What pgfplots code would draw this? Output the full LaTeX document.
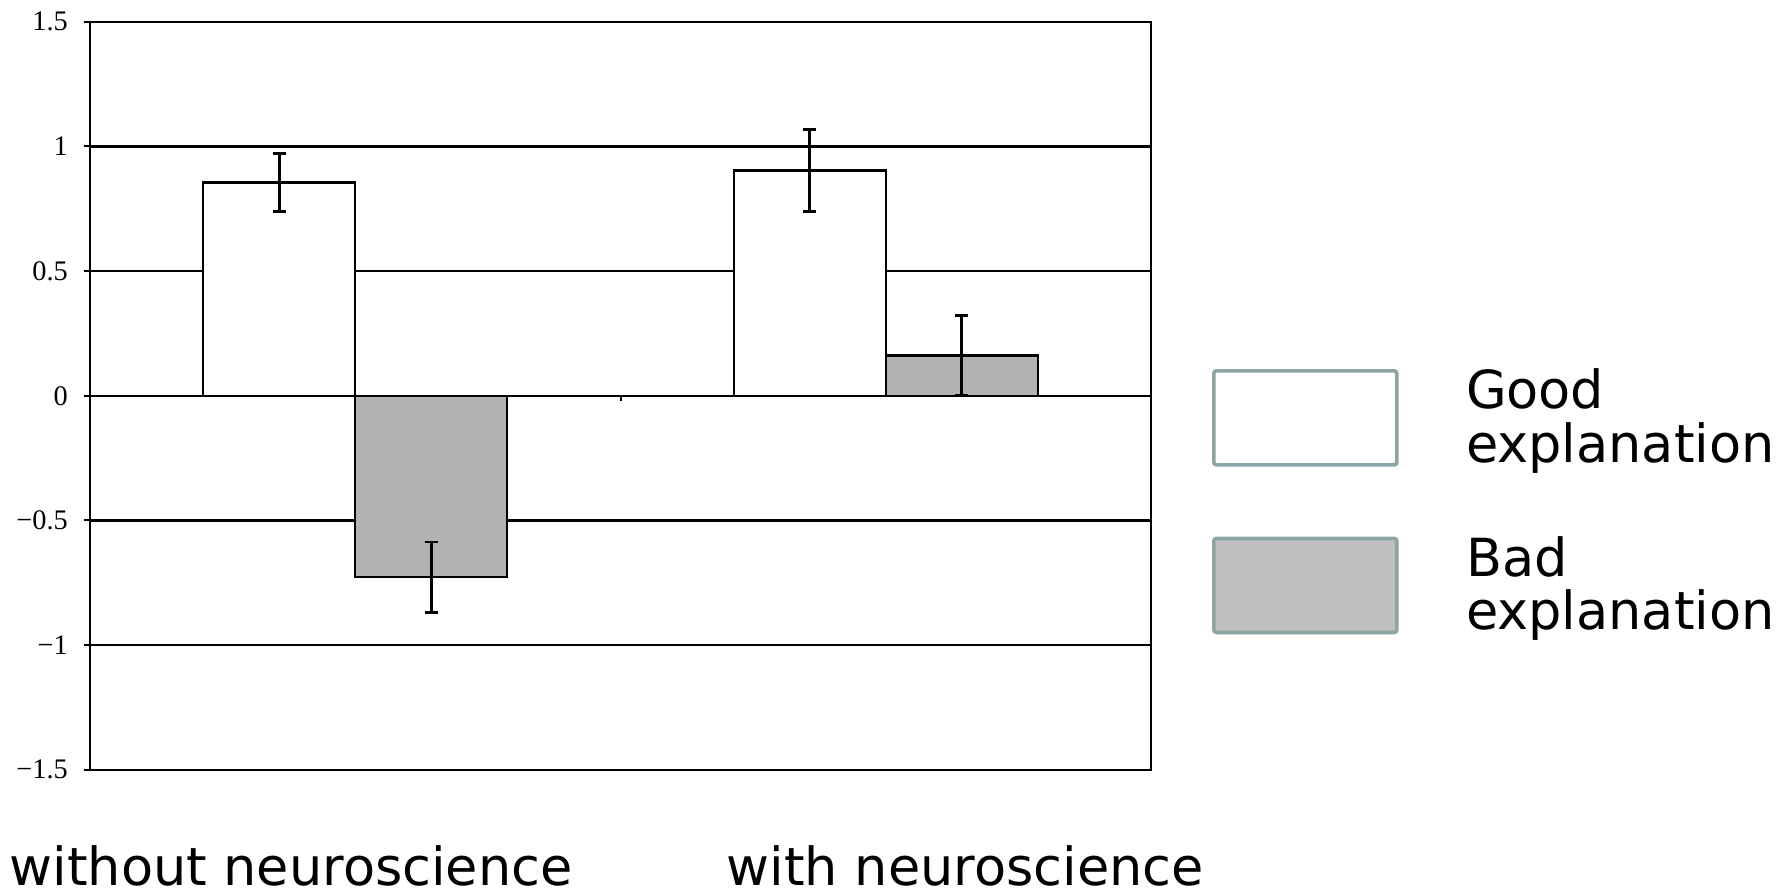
\documentclass[border=0pt]{standalone}
\usepackage{pgfplots}
\pgfplotsset{compat=1.18}
\usepackage{fontspec}
\setmainfont{Liberation Serif}
\newfontfamily\verd{DejaVu Sans}
\definecolor{bargray}{HTML}{B2B2B2}
\definecolor{leggray}{HTML}{BFBFBF}
\definecolor{legedge}{HTML}{8BA5A5}
\begin{document}
\begin{tikzpicture}
\begin{axis}[
  at={(0,0)}, anchor=south west,
  scale only axis, width=318.3pt, height=224.4pt,
  xmin=-0.5, xmax=1.5, ymin=-1.5, ymax=1.5,
  xtick=\empty,
  ytick={-1.5,-1,-0.5,0,0.5,1,1.5},
  yticklabels={−1.5,−1,−0.5,0,0.5,1,1.5},
  ytick pos=left,
  ymajorgrids, grid style={black, line width=0.75pt},
  axis line style={black, line width=0.75pt},
  tick align=outside, major tick length=1.8pt,
  ytick style={black, line width=0.6pt},
  yticklabel style={font=\fontsize{8.5}{9}\selectfont, xshift=-1.3pt},
  legend style={draw=none, fill=none, inner sep=0pt, outer sep=0pt,
    at={(1.0575,0.3585)}, anchor=west, row sep=20.7pt, column sep=20.2pt,
    nodes={inner sep=0pt},
    font=\verd\fontsize{15.75}{16.1}\selectfont,
    cells={anchor=west, align=left}},
  legend image code/.code={\draw[#1, rounded corners=0.8pt] (0pt,-14.1pt) rectangle (54.9pt,14.1pt);},
]
% bars are placed at their shifted positions so the error bars sit on their centres
\addplot[ybar, bar width=0.2866, bar shift=0pt, draw=black, line width=0.7pt, fill=white, forget plot,
  error bars/.cd, y dir=both, y explicit,
  error bar style={line width=0.8pt, black},
  error mark options={rotate=90, mark size=2pt, line width=0.8pt, black}]
  coordinates {(-0.1433,0.855) +- (0,0.116) (0.8567,0.903) +- (0,0.165)};
\addplot[ybar, bar width=0.2866, bar shift=0pt, draw=black, line width=0.7pt, fill=bargray, forget plot,
  error bars/.cd, y dir=both, y explicit,
  error bar style={line width=0.8pt, black},
  error mark options={rotate=90, mark size=2pt, line width=0.8pt, black}]
  coordinates {(0.1433,-0.728) +- (0,0.142) (1.1433,0.162) +- (0,0.161)};
\draw[black, line width=0.6pt] (axis cs:0.5,0) -- (axis cs:0.5,-0.022);
\addlegendimage{draw=legedge, line width=1.1pt, fill=white}
\addlegendentry{Good\\explanation}
\addlegendimage{draw=legedge, line width=1.1pt, fill=leggray}
\addlegendentry{Bad\\explanation}
\end{axis}
\node[anchor=base west, inner sep=0pt, font=\verd\fontsize{15.75}{18}\selectfont] at (-24.3pt,-34.6pt) {without neuroscience};
\node[anchor=base west, inner sep=0pt, font=\verd\fontsize{15.75}{18}\selectfont] at (190.8pt,-34.6pt) {with neuroscience};
\pgfresetboundingbox
\path (-27pt,-37.26pt) rectangle (510.3pt,230.94pt);
\end{tikzpicture}
\end{document}
